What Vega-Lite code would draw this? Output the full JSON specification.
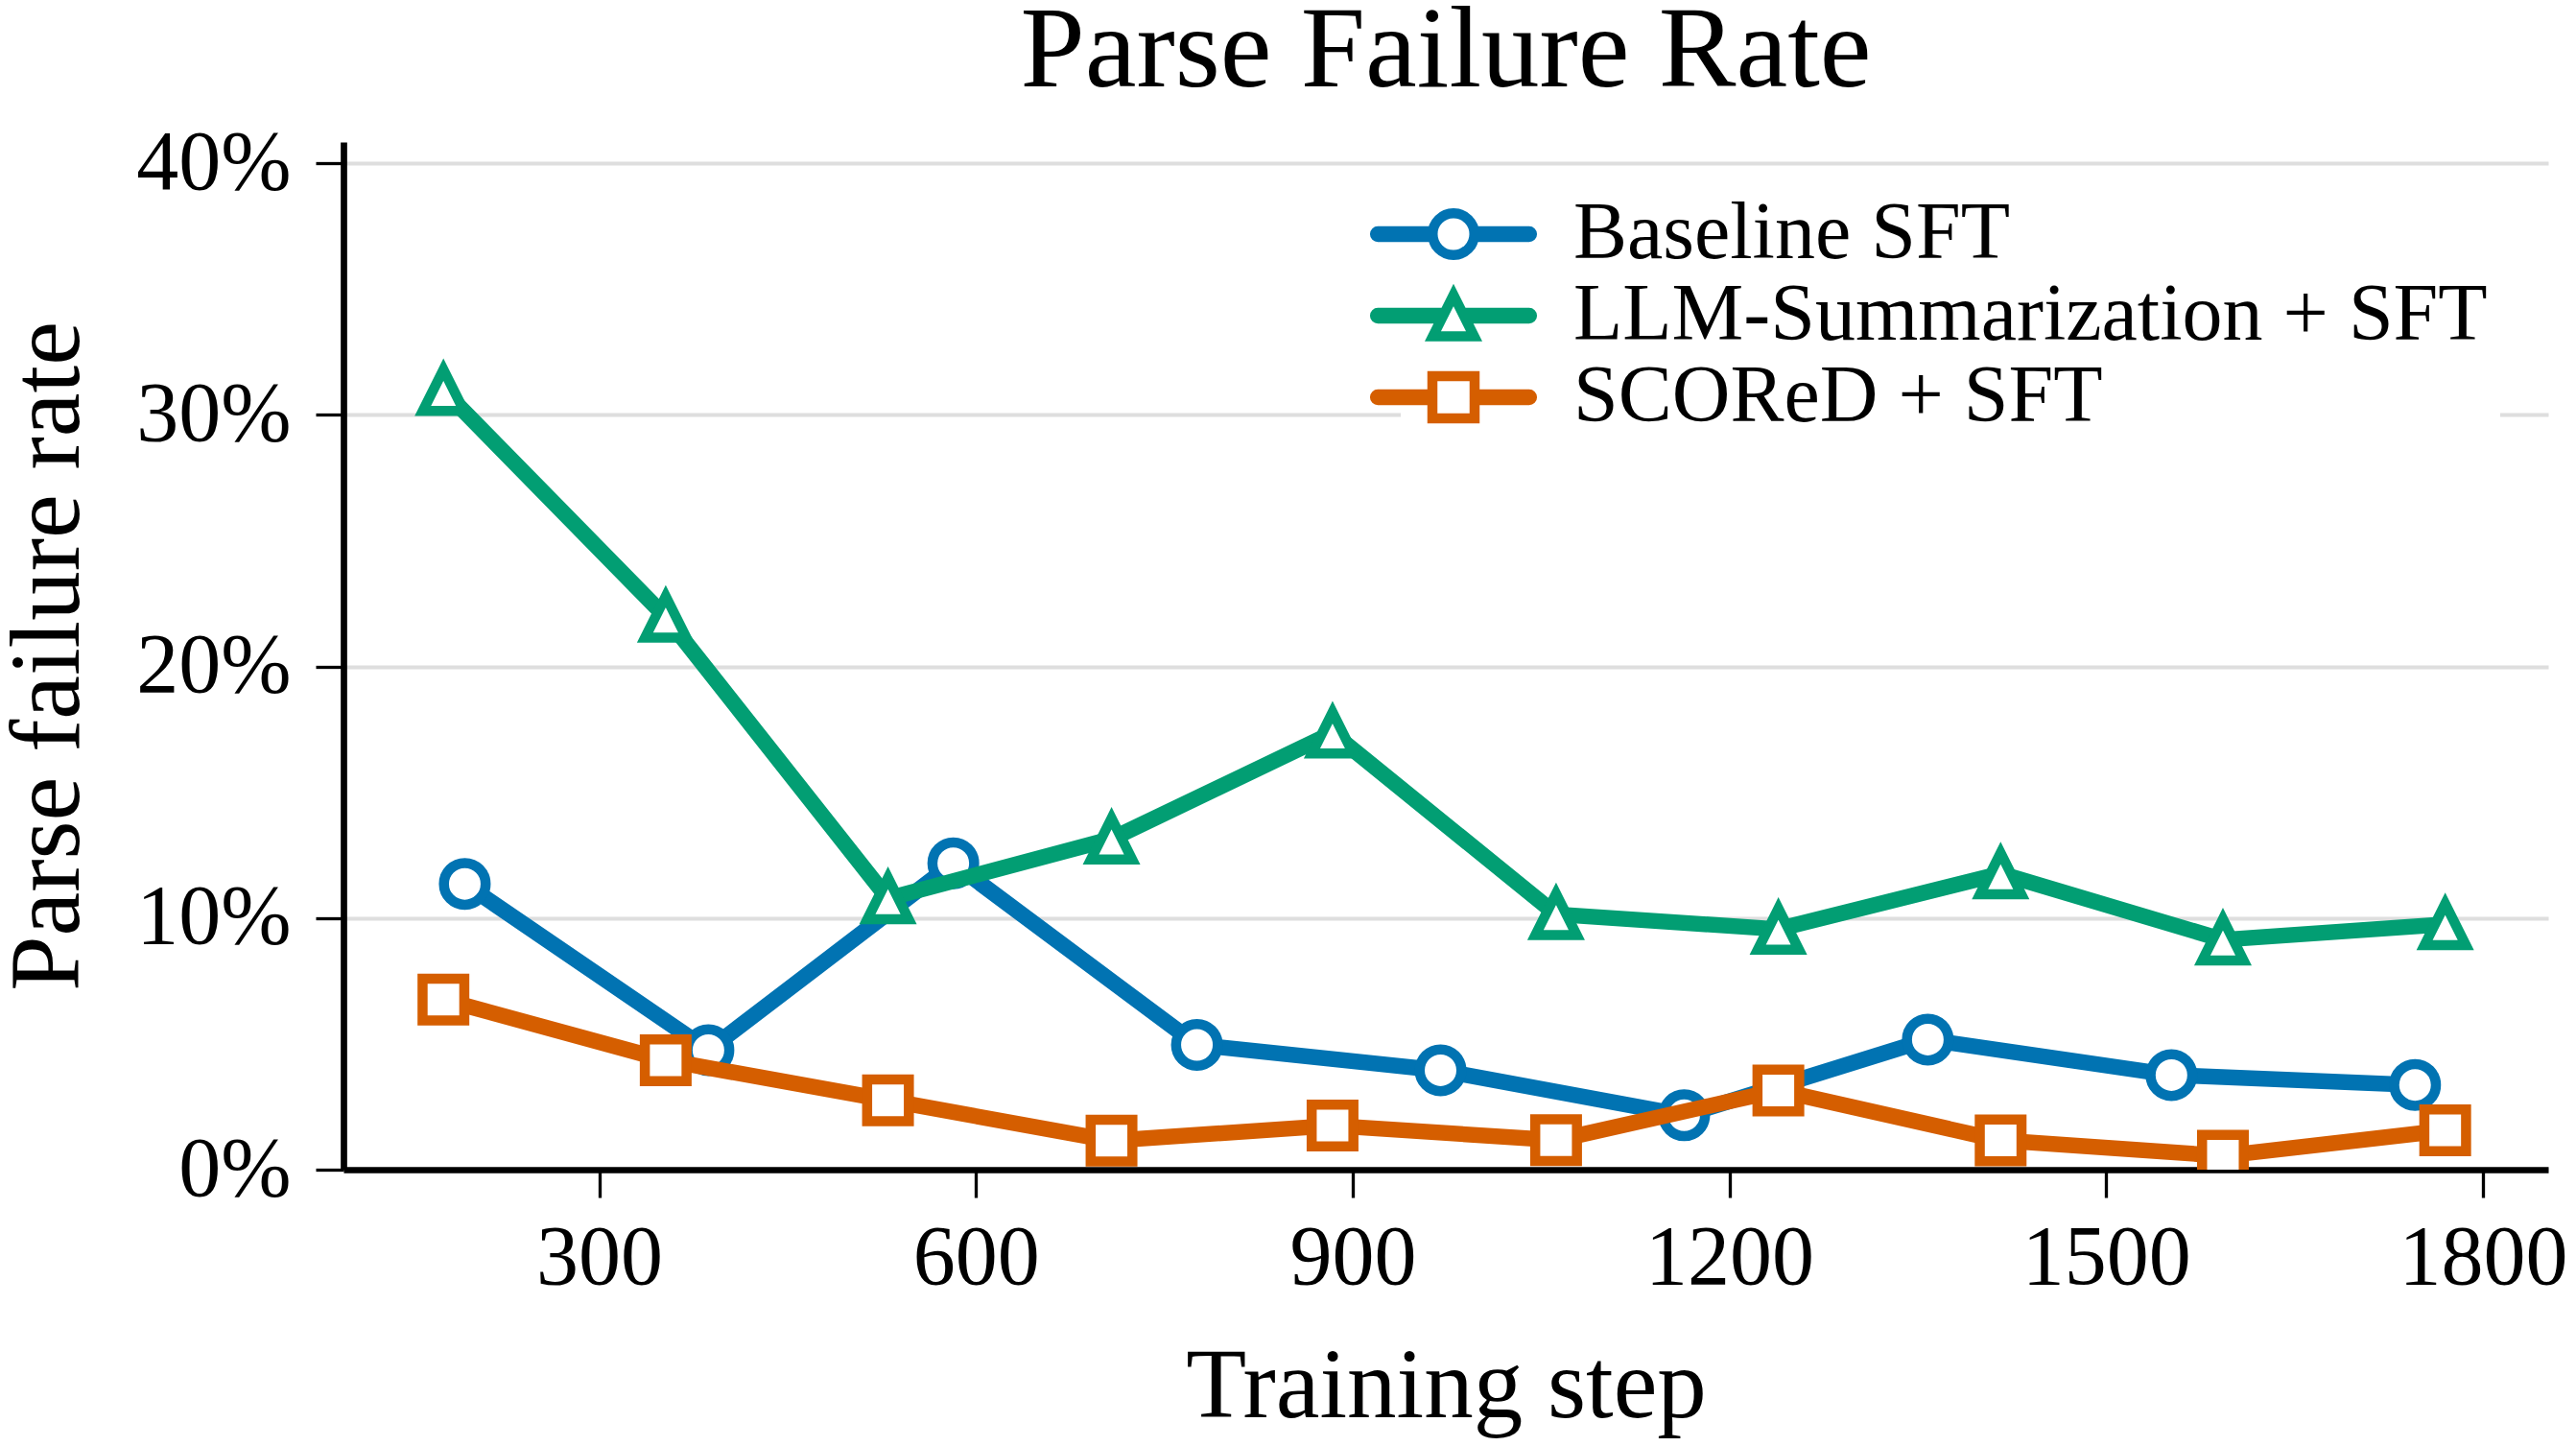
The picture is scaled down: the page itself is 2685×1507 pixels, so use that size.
{
  "$schema": "https://vega.github.io/schema/vega-lite/v6.json",
  "width": 2298,
  "height": 1071,
  "autosize": {"type": "none"},
  "padding": {"left": 358, "top": 148, "right": 29, "bottom": 288},
  "background": "white",
  "title": {"text": "Parse Failure Rate", "frame": "group", "anchor": "middle", "baseline": "alphabetic", "offset": -85},
  "data": {"values": [
    {"method": "Baseline SFT", "step": 193, "rate": 0.1136},
    {"method": "Baseline SFT", "step": 387, "rate": 0.0475},
    {"method": "Baseline SFT", "step": 582, "rate": 0.1218},
    {"method": "Baseline SFT", "step": 776, "rate": 0.0496},
    {"method": "Baseline SFT", "step": 970, "rate": 0.0395},
    {"method": "Baseline SFT", "step": 1164, "rate": 0.0216},
    {"method": "Baseline SFT", "step": 1358, "rate": 0.0517},
    {"method": "Baseline SFT", "step": 1552, "rate": 0.0376},
    {"method": "Baseline SFT", "step": 1746, "rate": 0.0337},
    {"method": "LLM-Summarization + SFT", "step": 176, "rate": 0.3098},
    {"method": "LLM-Summarization + SFT", "step": 353, "rate": 0.2197},
    {"method": "LLM-Summarization + SFT", "step": 530, "rate": 0.1078},
    {"method": "LLM-Summarization + SFT", "step": 708, "rate": 0.1315},
    {"method": "LLM-Summarization + SFT", "step": 884, "rate": 0.1736},
    {"method": "LLM-Summarization + SFT", "step": 1062, "rate": 0.1015},
    {"method": "LLM-Summarization + SFT", "step": 1239, "rate": 0.0956},
    {"method": "LLM-Summarization + SFT", "step": 1416, "rate": 0.1177},
    {"method": "LLM-Summarization + SFT", "step": 1593, "rate": 0.0914},
    {"method": "LLM-Summarization + SFT", "step": 1770, "rate": 0.0975},
    {"method": "SCOReD + SFT", "step": 176, "rate": 0.0676},
    {"method": "SCOReD + SFT", "step": 353, "rate": 0.0435},
    {"method": "SCOReD + SFT", "step": 530, "rate": 0.0276},
    {"method": "SCOReD + SFT", "step": 708, "rate": 0.0115},
    {"method": "SCOReD + SFT", "step": 884, "rate": 0.0175},
    {"method": "SCOReD + SFT", "step": 1062, "rate": 0.0117},
    {"method": "SCOReD + SFT", "step": 1239, "rate": 0.0315},
    {"method": "SCOReD + SFT", "step": 1416, "rate": 0.0116},
    {"method": "SCOReD + SFT", "step": 1593, "rate": 0.0055},
    {"method": "SCOReD + SFT", "step": 1770, "rate": 0.0156}
  ]},
  "encoding": {
    "x": {
      "field": "step", "type": "quantitative",
      "scale": {"domain": [96.4, 1852], "nice": false, "zero": false},
      "axis": {
        "title": "Training step",
        "values": [300, 600, 900, 1200, 1500, 1800],
        "format": "d",
        "grid": false,
        "labelBaseline": "alphabetic",
        "labelPadding": 89,
        "titleBaseline": "alphabetic",
        "titleY": 257
      }
    },
    "y": {
      "field": "rate", "type": "quantitative",
      "scale": {"domain": [0, 0.4085], "nice": false},
      "axis": {
        "title": "Parse failure rate",
        "values": [0, 0.1, 0.2, 0.3, 0.4],
        "format": ".0%",
        "grid": true,
        "gridColor": "#dedede",
        "gridWidth": 4,
        "labelPadding": 26,
        "titleBaseline": "alphabetic",
        "titleX": -277
      }
    },
    "stroke": {
      "field": "method", "type": "nominal",
      "scale": {
        "domain": ["Baseline SFT", "LLM-Summarization + SFT", "SCOReD + SFT"],
        "range": ["#0173B2", "#029E73", "#D55E00"]
      },
      "legend": {
        "title": null,
        "orient": "none",
        "legendX": 1102,
        "legendY": 41,
        "padding": 13,
        "fillColor": "white",
        "strokeColor": null,
        "labelFontSize": 84,
        "labelOffset": 83,
        "labelLimit": 3000,
        "rowPadding": -3,
        "symbolOffset": 0,
        "encode": {
          "symbols": {
            "update": {
              "shape": {"signal": "datum.value === 'Baseline SFT' ? 'M-0.9,-0.1L-2.627,-0.1C-2.682,-0.1,-2.727,-0.055,-2.727,0C-2.727,0.055,-2.682,0.1,-2.627,0.1L-0.9,0.1ZM0.9,-0.1L2.627,-0.1C2.682,-0.1,2.727,-0.055,2.727,0C2.727,0.055,2.682,0.1,2.627,0.1L0.9,0.1ZM0.725,0C0.725,0.4,0.4,0.725,0,0.725C-0.4,0.725,-0.725,0.4,-0.725,0C-0.725,-0.4,-0.4,-0.725,0,-0.725C0.4,-0.725,0.725,-0.4,0.725,0Z' : datum.value === 'SCOReD + SFT' ? 'M-0.9,-0.1L-2.627,-0.1C-2.682,-0.1,-2.727,-0.055,-2.727,0C-2.727,0.055,-2.682,0.1,-2.627,0.1L-0.9,0.1ZM0.9,-0.1L2.627,-0.1C2.682,-0.1,2.727,-0.055,2.727,0C2.727,0.055,2.682,0.1,2.627,0.1L0.9,0.1ZM-0.733,-0.733L0.733,-0.733L0.733,0.733L-0.733,0.733Z' : 'M-0.55,-0.1L-2.627,-0.1C-2.682,-0.1,-2.727,-0.055,-2.727,0C-2.727,0.055,-2.682,0.1,-2.627,0.1L-0.55,0.1ZM0.55,-0.1L2.627,-0.1C2.682,-0.1,2.727,-0.055,2.727,0C2.727,0.055,2.682,0.1,2.627,0.1L0.55,0.1ZM0,-0.717L-0.717,0.717L0.717,0.717Z'"},
              "size": {"value": 3600},
              "fill": {"value": "white"},
              "strokeWidth": {"value": 10.5},
              "opacity": {"value": 1}
            }
          }
        }
      }
    }
  },
  "layer": [
    {
      "transform": [{"filter": "datum.method === 'Baseline SFT'"}],
      "mark": {"type": "line", "strokeWidth": 16.5, "strokeJoin": "round", "clip": true}
    },
    {
      "transform": [{"filter": "datum.method === 'Baseline SFT'"}],
      "mark": {"type": "point", "shape": "circle", "filled": true, "fill": "white", "strokeWidth": 10.5, "size": 1892, "opacity": 1, "clip": true}
    },
    {
      "transform": [{"filter": "datum.method === 'LLM-Summarization + SFT'"}],
      "mark": {"type": "line", "strokeWidth": 16.5, "strokeJoin": "round", "clip": true}
    },
    {
      "transform": [{"filter": "datum.method === 'LLM-Summarization + SFT'"}],
      "mark": {"type": "point", "shape": "M0,-0.989L-0.989,0.989L0.989,0.989Z", "filled": true, "fill": "white", "strokeWidth": 10.5, "size": 1892, "opacity": 1, "clip": true}
    },
    {
      "transform": [{"filter": "datum.method === 'SCOReD + SFT'"}],
      "mark": {"type": "line", "strokeWidth": 16.5, "strokeJoin": "round", "clip": true}
    },
    {
      "transform": [{"filter": "datum.method === 'SCOReD + SFT'"}],
      "mark": {"type": "point", "shape": "square", "filled": true, "fill": "white", "strokeWidth": 10.5, "size": 1892, "opacity": 1, "clip": true}
    }
  ],
  "config": {
    "view": {"stroke": null},
    "font": "Liberation Serif",
    "title": {"font": "Liberation Serif", "fontSize": 121, "fontWeight": "normal", "color": "black"},
    "axis": {
      "domainColor": "black",
      "domainWidth": 6.7,
      "tickColor": "black",
      "tickWidth": 3.3,
      "tickSize": 29,
      "labelFont": "Liberation Serif",
      "labelFontSize": 88,
      "labelColor": "black",
      "labelFlush": false,
      "labelOverlap": false,
      "labelBound": false,
      "titleFont": "Liberation Serif",
      "titleFontSize": 103,
      "titleFontWeight": "normal",
      "titleColor": "black"
    },
    "legend": {
      "labelFont": "Liberation Serif",
      "labelColor": "black"
    }
  }
}
